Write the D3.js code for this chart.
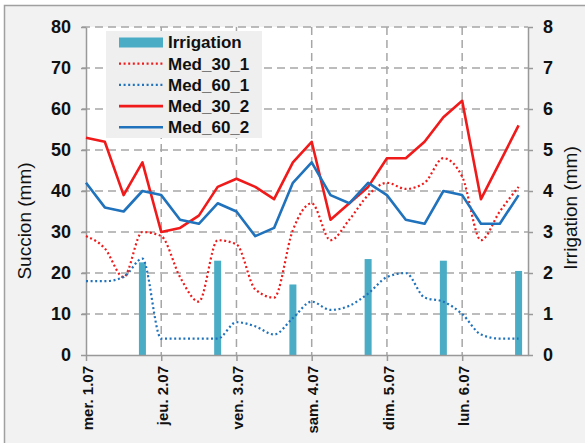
<!DOCTYPE html>
<html lang="fr">
<head>
  <meta charset="UTF-8">
  <title>Succion et irrigation</title>
  <script src="https://d3js.org/d3.v7.min.js"></script>
  <style>
    body { margin: 0; background: #fff; }
    svg { display: block; font-family: "Liberation Sans", Arial, sans-serif; }
  </style>
</head>
<body>
  <div id="chart"></div>
  <script>
    // measurements every 6 hours, starting mer. 1.07 00:00
    const dayLabels = ["mer. 1.07", "jeu. 2.07", "ven. 3.07", "sam. 4.07", "dim. 5.07", "lun. 6.07"];
    const steps = d3.range(24);

    const med30_1 = [29, 26, 19, 30, 29, 19, 13, 28, 27, 16, 14, 30.5, 37, 28, 33, 39, 42, 40.5, 42, 48, 43.5, 28, 35, 41];
    const med60_1 = [18, 18, 19, 23.5, 4, 4, 4, 4, 8, 7, 5, 9, 13, 11, 12, 15, 19, 20, 14, 13, 10, 5, 4, 4];
    const med30_2 = [53, 52, 39, 47, 30, 31, 34, 41, 43, 41, 38, 47, 52, 33, 37, 41, 48, 48, 52, 58, 62, 38, 47, 56];
    const med60_2 = [42, 36, 35, 40, 39, 33, 32, 37, 35, 29, 31, 42, 47, 39, 37, 42, 39, 33, 32, 40, 39, 32, 32, 39];

    const irrigSteps = [3, 7, 11, 15, 19, 23];
    const irrigValues = [2.26, 2.30, 1.72, 2.34, 2.30, 2.05];

    const leftTicks = [0, 10, 20, 30, 40, 50, 60, 70, 80];
    const rightTicks = [0, 1, 2, 3, 4, 5, 6, 7, 8];

    const width = 585, height = 443;
    const plot = { left: 86, right: 528, top: 27, bottom: 355 };
    const red = "#f01a1a", blue = "#1f72bb", barColor = "#4bacc6", gridColor = "#a6a6a6";

    const svg = d3.select("#chart").append("svg")
      .attr("width", width).attr("height", height);

    svg.append("rect").attr("x", 4.5).attr("y", 5.5).attr("width", 700).attr("height", 600)
      .attr("fill", "#f2f2f2").attr("stroke", "#a0a0a0").attr("stroke-width", 1.5);
    svg.append("rect").attr("x", plot.left).attr("y", plot.top)
      .attr("width", plot.right - plot.left).attr("height", plot.bottom - plot.top).attr("fill", "#fff");

    const x = d3.scaleLinear().domain([0, 23.5]).range([plot.left, plot.right]);
    const y = d3.scaleLinear().domain([0, 80]).range([plot.bottom, plot.top]);
    const y2 = d3.scaleLinear().domain([0, 8]).range([plot.bottom, plot.top]);
    const dayTicks = dayLabels.map((d, i) => i * 4);

    // grid
    const grid = svg.append("g").attr("stroke", gridColor).attr("stroke-width", 1.5)
      .attr("stroke-dasharray", "8,5");
    grid.selectAll("line.h").data(leftTicks.filter(d => d > 0)).join("line")
      .attr("x1", plot.left - 4).attr("x2", plot.right)
      .attr("y1", d => y(d)).attr("y2", d => y(d));
    grid.selectAll("line.v").data(dayTicks.filter(d => d > 0)).join("line")
      .attr("x1", d => x(d)).attr("x2", d => x(d))
      .attr("y1", plot.top).attr("y2", plot.bottom);

    // bars
    svg.append("g").selectAll("rect").data(irrigSteps).join("rect")
      .attr("x", d => x(d) - 3.5).attr("width", 7)
      .attr("y", (d, i) => y2(irrigValues[i]))
      .attr("height", (d, i) => y2(0) - y2(irrigValues[i]))
      .attr("fill", barColor);

    // axes
    const axisStyle = g => {
      g.select(".domain").attr("stroke", "#999").attr("stroke-width", 1.5);
      g.selectAll(".tick line").attr("stroke", "#999").attr("stroke-width", 1.5);
      g.selectAll(".tick text").attr("fill", "#111").style("font-weight", "bold");
    };
    svg.append("g").attr("transform", `translate(${plot.left},0)`)
      .call(d3.axisLeft(y).tickValues(leftTicks).tickSize(5).tickPadding(10).tickSizeOuter(0))
      .call(axisStyle)
      .call(g => g.selectAll(".tick text").style("font-size", "18px"));
    svg.append("g").attr("transform", `translate(${plot.right},0)`)
      .call(d3.axisRight(y2).tickValues(rightTicks).tickSize(5).tickPadding(10).tickSizeOuter(0))
      .call(axisStyle)
      .call(g => g.selectAll(".tick text").style("font-size", "18px"));
    svg.append("g").attr("transform", `translate(0,${plot.bottom})`)
      .call(d3.axisBottom(x).tickValues(dayTicks).tickFormat((d, i) => dayLabels[i]).tickSize(6).tickSizeOuter(0))
      .call(axisStyle)
      .call(g => g.selectAll(".tick text")
        .style("font-size", "15px")
        .attr("text-anchor", "end")
        .attr("transform", "rotate(-90)")
        .attr("x", -11).attr("y", 1).attr("dy", "0.35em"));

    // axis titles
    svg.append("text").attr("transform", "translate(31,221) rotate(-90)")
      .attr("text-anchor", "middle").style("font-size", "19px").attr("fill", "#111")
      .text("Succion (mm)");
    svg.append("text").attr("transform", "translate(577,208) rotate(-90)")
      .attr("text-anchor", "middle").style("font-size", "19px").attr("fill", "#111")
      .text("Irrigation (mm)");

    // lines
    const smooth = d3.line().x((d, i) => x(steps[i])).y(d => y(d)).curve(d3.curveMonotoneX);
    const straight = d3.line().x((d, i) => x(steps[i])).y(d => y(d));
    const series = [
      { name: "Med_30_1", values: med30_1, color: red, dotted: true },
      { name: "Med_60_1", values: med60_1, color: blue, dotted: true },
      { name: "Med_30_2", values: med30_2, color: red, dotted: false },
      { name: "Med_60_2", values: med60_2, color: blue, dotted: false }
    ];
    series.forEach(s => {
      svg.append("path").attr("d", (s.dotted ? smooth : straight)(s.values))
        .attr("fill", "none").attr("stroke", s.color)
        .attr("stroke-width", s.dotted ? 2.2 : 2.6)
        .attr("stroke-dasharray", s.dotted ? "2,2.6" : null)
        .attr("stroke-linejoin", "round");
    });

    // legend
    const legend = svg.append("g").attr("transform", "translate(106,31)");
    legend.append("rect").attr("width", 156).attr("height", 107).attr("fill", "#efefef");
    const rowY = i => 11.5 + i * 21.2;
    legend.append("rect").attr("x", 13).attr("y", rowY(0) - 5).attr("width", 44).attr("height", 10)
      .attr("fill", barColor);
    legend.append("text").attr("x", 62).attr("y", rowY(0)).attr("dy", "0.35em")
      .style("font-size", "17px").style("font-weight", "bold").attr("fill", "#111").text("Irrigation");
    series.forEach((s, i) => {
      legend.append("line").attr("x1", 13).attr("x2", 57)
        .attr("y1", rowY(i + 1)).attr("y2", rowY(i + 1))
        .attr("stroke", s.color).attr("stroke-width", s.dotted ? 2.2 : 2.6)
        .attr("stroke-dasharray", s.dotted ? "2,2.6" : null);
      legend.append("text").attr("x", 62).attr("y", rowY(i + 1)).attr("dy", "0.35em")
        .style("font-size", "17px").style("font-weight", "bold").attr("fill", "#111").text(s.name);
    });
  </script>
</body>
</html>
